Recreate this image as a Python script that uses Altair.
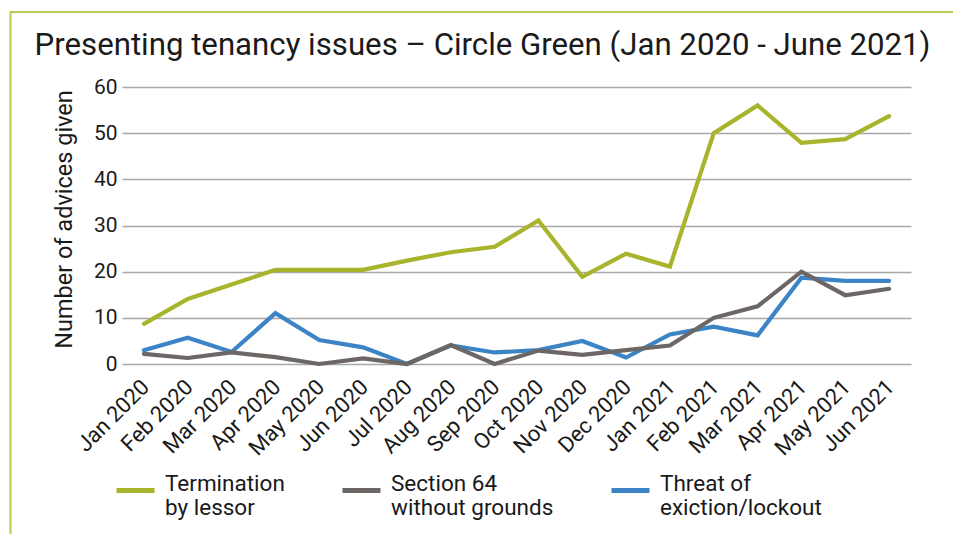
import altair as alt
import pandas as pd

months = ["Jan 2020", "Feb 2020", "Mar 2020", "Apr 2020", "May 2020", "Jun 2020",
          "Jul 2020", "Aug 2020", "Sep 2020", "Oct 2020", "Nov 2020", "Dec 2020",
          "Jan 2021", "Feb 2021", "Mar 2021", "Apr 2021", "May 2021", "Jun 2021"]
series_names = ["Termination|by lessor", "Section 64|without grounds", "Threat of|exiction/lockout"]
termination = [8.7, 14.1, 17.2, 20.4, 20.4, 20.4, 22.4, 24.2, 25.4, 31.1, 18.9, 23.9,
               21.1, 50.0, 56.0, 47.9, 48.7, 53.7]
section64 = [2.2, 1.3, 2.5, 1.5, 0, 1.2, 0, 4.1, 0, 2.9, 2.0, 3.0,
             4.0, 10.0, 12.5, 20.0, 14.9, 16.3]
threat = [3.0, 5.7, 2.6, 11.0, 5.2, 3.6, 0, 4.0, 2.5, 3.0, 5.0, 1.4,
          6.4, 8.1, 6.2, 18.7, 18.0, 18.0]
colors = ["#a7b42c", "#6c6764", "#3c84c5"]
y_ticks = [0, 10, 20, 30, 40, 50, 60]

rows = []
for name, vals in zip(series_names, [termination, section64, threat]):
    for m, v in zip(months, vals):
        rows.append({"month": m, "series": name, "value": v})
df = pd.DataFrame(rows)

FONT = "Roboto"

color = alt.Color(
    "series:N",
    scale=alt.Scale(domain=series_names, range=colors),
    legend=alt.Legend(
        title=None, orient="none", legendX=-8, legendY=382, direction="horizontal",
        columns=3, symbolType="stroke", symbolSize=1444, symbolStrokeWidth=5,
        labelFont=FONT, labelFontSize=22.5, labelColor="#1a1a1a",
        labelBaseline="alphabetic",
        labelExpr="split(datum.label, '|')", labelLimit=300, columnPadding=47,
        labelOffset=8,
    ),
)

base = alt.Chart(df).encode(
    x=alt.X("month:O", sort=months, title=None, scale=alt.Scale(padding=0.5),
            axis=alt.Axis(labelAngle=-45, labelFont=FONT, labelFontSize=22,
                          labelColor="#1a1a1a", ticks=False, domain=False,
                          labelPadding=12, labelOffset=-6, labelOverlap=False)),
    y=alt.Y("value:Q", scale=alt.Scale(domain=[0, 60]), title="Number of advices given",
            axis=alt.Axis(values=y_ticks, labelFont=FONT, labelFontSize=21,
                          labelColor="#1a1a1a", ticks=False, domain=False, labelPadding=5,
                          titleFont=FONT, titleFontSize=23.5, titleFontWeight="normal",
                          titleColor="#1a1a1a", titlePadding=17, titleY=132,
                          gridColor="#a8a8a8", gridWidth=1.3)),
    color=color,
)

order = [series_names[0], series_names[2], series_names[1]]
layers = [base.transform_filter(alt.datum.series == s).mark_line(strokeWidth=4.2, strokeCap="round", strokeJoin="miter")
          for s in order]

frame = alt.Chart(pd.DataFrame({"a": [0]})).mark_rect(
    fill=None, stroke="#b9cb55", strokeWidth=2
).encode(x=alt.value(-111.5), x2=alt.value(832), y=alt.value(-75), y2=alt.value(480))

chart = alt.layer(frame, *layers).properties(
    width=789, height=277,
    title=alt.TitleParams("Presenting tenancy issues \u2013 Circle Green (Jan 2020 - June 2021)",
                          font=FONT, fontSize=31.2, fontWeight="normal", color="#1a1a1a",
                          anchor="middle", dx=-34, offset=-50),
    padding={"left": 114, "top": 79, "right": 42, "bottom": 170},
    autosize=alt.AutoSizeParams(type="none"),
).configure(
    background="white",
    view={"stroke": "transparent"},
    style={"guide-label": {"lineHeight": 24}},
)

chart.save("out.html", embed_options={"renderer": "svg", "actions": False})
